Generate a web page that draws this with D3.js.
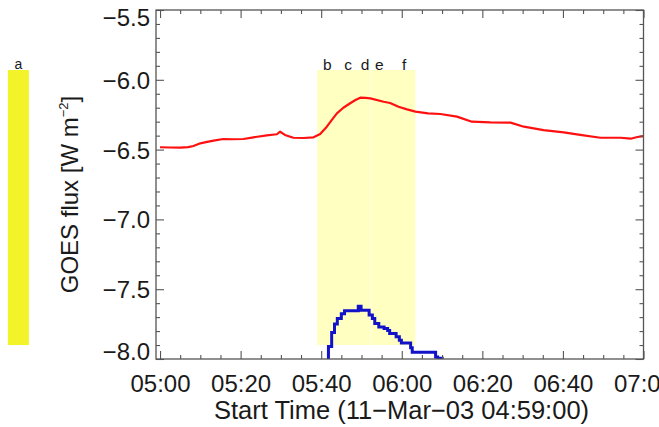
<!DOCTYPE html>
<html>
<head>
<meta charset="utf-8">
<script src="https://cdn.jsdelivr.net/npm/d3@7"></script>
<style>
  html, body { margin: 0; padding: 0; background: #fff; }
  svg { display: block; }
  text { font-family: "Liberation Sans", Arial, Helvetica, sans-serif; fill: #1a1a1a; }
</style>
</head>
<body>
<svg id="chart" width="659" height="427"></svg>
<script>
// GOES X-ray flux (log10, W m^-2), 11-Mar-2003
const startTime = "04:59:00";
const endTime = "07:00:00";

// long channel (red)
const longTimes = ["05:00:00","05:02:30","05:05:00","05:07:00","05:08:18","05:10:00","05:11:42","05:13:18",
  "05:15:42","05:18:00","05:20:42","05:23:12","05:26:30","05:29:00","05:29:48","05:31:00","05:33:06",
  "05:35:36","05:38:06","05:39:45","05:41:24","05:42:42","05:43:54","05:45:30","05:47:12","05:48:30",
  "05:49:42","05:51:00","05:52:12","05:55:30","05:57:06","05:59:12","06:01:18","06:03:24","06:06:30",
  "06:09:36","06:13:42","06:17:24","06:22:00","06:27:00","06:30:18","06:35:12","06:40:12","06:44:18",
  "06:49:18","06:54:18","06:56:48","06:58:30","07:00:00"];
const longFlux = [-6.483,-6.485,-6.486,-6.482,-6.474,-6.455,-6.445,-6.436,
  -6.424,-6.426,-6.424,-6.412,-6.398,-6.390,-6.372,-6.395,-6.415,
  -6.417,-6.412,-6.388,-6.336,-6.285,-6.240,-6.200,-6.168,-6.145,
  -6.128,-6.130,-6.133,-6.157,-6.166,-6.193,-6.212,-6.228,-6.240,
  -6.245,-6.264,-6.300,-6.305,-6.307,-6.336,-6.360,-6.376,-6.395,
  -6.415,-6.415,-6.422,-6.410,-6.403];

// short channel (blue), stepped
const shortTimes = ["05:41:00","05:41:48","05:42:36","05:43:18","05:44:00","05:45:00","05:45:48","05:49:12",
  "05:49:54","05:51:54","05:52:42","05:53:18","05:54:18","05:55:36","05:56:30","05:57:00","05:58:36",
  "05:59:24","05:59:54","06:02:12","06:02:36","06:08:24","06:08:54","06:10:24"];
const shortFlux = [-8.05,-7.91,-7.81,-7.75,-7.71,-7.675,-7.655,-7.622,
  -7.65,-7.685,-7.71,-7.745,-7.77,-7.782,-7.795,-7.818,-7.84,
  -7.865,-7.885,-7.92,-7.952,-7.985,-7.995,-7.995];

// image time windows
const windowLabels = ["a", "flare"];
const windowStarts = ["04:22:14", "05:39:00"];
const windowEnds = ["04:27:27", "06:03:24"];
const windowColors = ["#f3f32a", "#ffffc2"];
const windowSplit = "05:52:24";
const windowFluxTop = -5.93;
const windowFluxBottom = -7.90;

const frameLabels = ["b", "c", "d", "e", "f"];
const frameTimes = ["05:41:30", "05:46:42", "05:50:54", "05:54:24", "06:00:36"];

const majorTicks = ["05:00","05:20","05:40","06:00","06:20","06:40","07:00"];
const yMajor = [-8.0, -7.5, -7.0, -6.5, -6.0, -5.5];

const parse = d3.timeParse("%H:%M:%S");
const parseHM = d3.timeParse("%H:%M");

const W = 659, H = 427;
const m = { left: 156, right: 15.5, top: 10, bottom: 68 };
const x0 = m.left, x1 = W - m.right, y0 = m.top, y1 = H - m.bottom;

const x = d3.scaleTime().domain([parse(startTime), parse(endTime)]).range([x0, x1]);
const y = d3.scaleLinear().domain([-8.0, -5.5]).range([y1, y0]);

const svg = d3.select("#chart");

svg.append("defs").append("clipPath").attr("id", "plotClip")
  .append("rect").attr("x", x0).attr("y", y0).attr("width", x1 - x0).attr("height", y1 - y0);

// time-window bands
windowStarts.forEach((s, i) => {
  svg.append("rect")
    .attr("x", x(parse(s)))
    .attr("width", x(parse(windowEnds[i])) - x(parse(s)))
    .attr("y", y(windowFluxTop))
    .attr("height", y(windowFluxBottom) - y(windowFluxTop))
    .attr("fill", windowColors[i]);
});
svg.append("line")
  .attr("x1", x(parse(windowSplit))).attr("x2", x(parse(windowSplit)))
  .attr("y1", y(windowFluxTop)).attr("y2", y(windowFluxBottom))
  .attr("stroke", "#fffff0").attr("stroke-width", 0.8);

// window label "a"
svg.append("text")
  .attr("x", (x(parse(windowStarts[0])) + x(parse(windowEnds[0]))) / 2)
  .attr("y", y(windowFluxTop) - 1)
  .attr("text-anchor", "middle").attr("font-size", 14)
  .text(windowLabels[0]);

// frame labels b..f
svg.selectAll(".flabel").data(frameLabels).join("text")
  .attr("class", "flabel")
  .attr("x", (d, i) => x(parse(frameTimes[i])))
  .attr("y", y(windowFluxTop))
  .attr("text-anchor", "middle").attr("font-size", 15.5)
  .text(d => d);

// curves
const plot = svg.append("g").attr("clip-path", "url(#plotClip)");
const longData = longTimes.map((t, i) => [parse(t), longFlux[i]]);
const shortData = shortTimes.map((t, i) => [parse(t), shortFlux[i]]);

plot.append("path")
  .attr("d", d3.line().x(d => x(d[0])).y(d => y(d[1]))(longData))
  .attr("fill", "none").attr("stroke", "#ff1010").attr("stroke-width", 2.2)
  .attr("stroke-linejoin", "round");

plot.append("path")
  .attr("d", d3.line().x(d => x(d[0])).y(d => y(d[1])).curve(d3.curveStepAfter)(shortData))
  .attr("fill", "none").attr("stroke", "#1212c8").attr("stroke-width", 3);

// axes
const tickColor = "#555";
const majorX = majorTicks.map(parseHM);
const minorX = d3.timeMinute.every(5).range(parse("05:00:00"), parse("07:00:01")).filter(d => d.getMinutes() % 20 !== 0);
const yMinor = d3.range(-7.9, -5.5, 0.1).map(v => +v.toFixed(1)).filter(v => !yMajor.some(M => Math.abs(M - v) < 1e-6));

function style(g) {
  g.select(".domain").remove();
  g.selectAll(".tick line").attr("stroke", tickColor).attr("stroke-width", 1.1);
  g.selectAll(".tick text").attr("fill", "#1a1a1a").style("font-family", '"Liberation Sans", Arial, sans-serif');
}

// bottom
svg.append("g").attr("transform", `translate(0,${y1})`)
  .call(d3.axisBottom(x).tickValues(majorX).tickSize(-8).tickPadding(16).tickFormat(d3.timeFormat("%H:%M")))
  .call(style)
  .call(g => g.selectAll("text").attr("font-size", 24));
svg.append("g").attr("transform", `translate(0,${y1})`)
  .call(d3.axisBottom(x).tickValues(minorX).tickSize(-4).tickFormat(""))
  .call(style);
// top
svg.append("g").attr("transform", `translate(0,${y0})`)
  .call(d3.axisTop(x).tickValues(majorX).tickSize(-8).tickFormat(""))
  .call(style);
svg.append("g").attr("transform", `translate(0,${y0})`)
  .call(d3.axisTop(x).tickValues(minorX).tickSize(-4).tickFormat(""))
  .call(style);
// left
svg.append("g").attr("transform", `translate(${x0},0)`)
  .call(d3.axisLeft(y).tickValues(yMajor).tickSize(-8).tickPadding(6).tickFormat(d => d3.format(".1f")(d).replace("-", "\u2212")))
  .call(style)
  .call(g => g.selectAll("text").attr("font-size", 24).attr("dy", null)
    .attr("y", d => {
      const base = 8.5;
      const ty = y(d);
      return Math.min(Math.max(ty + base, y0 + 15), y1) - ty;
    }));
svg.append("g").attr("transform", `translate(${x0},0)`)
  .call(d3.axisLeft(y).tickValues(yMinor).tickSize(-4).tickFormat(""))
  .call(style);
// right
svg.append("g").attr("transform", `translate(${x1},0)`)
  .call(d3.axisRight(y).tickValues(yMajor).tickSize(-8).tickFormat(""))
  .call(style);
svg.append("g").attr("transform", `translate(${x1},0)`)
  .call(d3.axisRight(y).tickValues(yMinor).tickSize(-4).tickFormat(""))
  .call(style);

// frame
svg.append("rect")
  .attr("x", x0).attr("y", y0).attr("width", x1 - x0).attr("height", y1 - y0)
  .attr("fill", "none").attr("stroke", tickColor).attr("stroke-width", 1.3);

// axis titles
svg.append("text")
  .attr("x", 401.5).attr("y", 419)
  .attr("text-anchor", "middle").attr("font-size", 25.5)
  .text("Start Time (11\u2212Mar\u221203 04:59:00)");

const yt = svg.append("text")
  .attr("transform", `translate(78,${(y0 + y1) / 2 + 10}) rotate(-90)`)
  .attr("text-anchor", "middle").attr("font-size", 24);
yt.append("tspan").text("GOES flux [W m");
yt.append("tspan").attr("font-size", 13).attr("dy", -10).text("\u22122");
yt.append("tspan").attr("dy", 10).text("]");
</script>
</body>
</html>
